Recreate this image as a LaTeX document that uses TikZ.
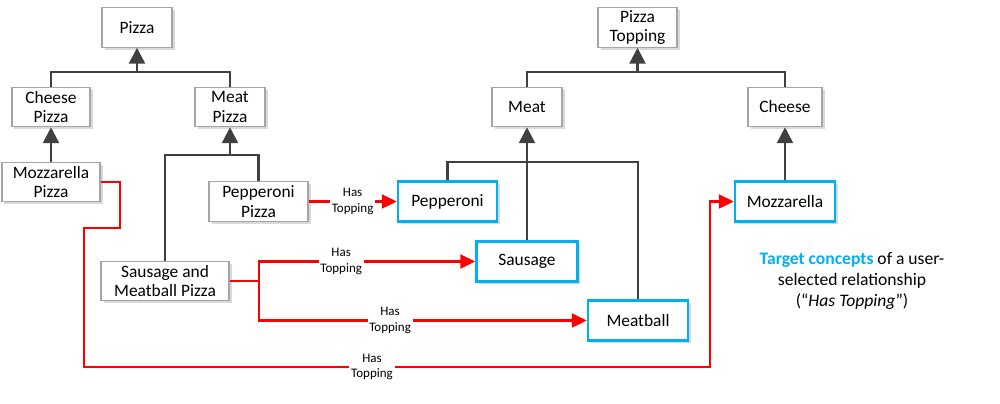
\documentclass[tikz,border=0pt]{standalone}
\usepackage{fontspec}
\setmainfont{Carlito}
\usetikzlibrary{arrows.meta,shadows}
\definecolor{tblue}{RGB}{0,176,240}
\definecolor{isagray}{RGB}{64,64,64}
\definecolor{boxgray}{RGB}{165,165,165}

\begin{document}
\begin{tikzpicture}[x=0.02cm,y=-0.02cm,
    concept/.style={draw=boxgray, line width=0.6pt, fill=white, align=center,
        minimum height=0.79cm, inner sep=1pt, font=\fontsize{9.9}{11.3}\selectfont,
        drop shadow={shadow xshift=0.05cm, shadow yshift=-0.05cm, fill=black, opacity=0.15}},
    target/.style={concept, draw=tblue, line width=1.5pt},
    isa/.style={draw=isagray, line width=1.5pt},
    isarrow/.style={isa, -{Triangle[length=9pt,width=9pt]}},
    has/.style={draw=red, line width=1.3pt},
    hasarrow/.style={has, -{Triangle[length=8.5pt,width=8pt]}},
    lbl/.style={fill=white, align=center, inner sep=1pt, font=\fontsize{7.4}{9}\selectfont}]

    \useasboundingbox (0,0) rectangle (1000,403);

    % Draw the pizza concepts
    \foreach \nm/\x/\y/\w/\txt in {pizza/137/27.5/70/Pizza,
        cheesepizza/51/107/78/{Cheese\\Pizza},
        meatpizza/230/107/70/{Meat\\Pizza},
        mozzpizza/51/182/98/{Mozzarella\\Pizza},
        pepppizza/258.5/201.5/99/{Pepperoni\\Pizza},
        sausmeatpizza/165/281/128/{Sausage and\\Meatball Pizza},
        topping/637.5/27.5/79/{Pizza\\Topping},
        meat/527/107/70/Meat,
        cheese/785/107/74/Cheese} {
        \node[concept, minimum width=\w*0.02cm] (\nm) at (\x,\y) {\txt};
    }
    % Draw the target concepts in blue
    \foreach \nm/\x/\y/\w/\txt in {pepperoni/447.5/201.5/99/Pepperoni,
        sausage/527/261.5/101/Sausage,
        meatball/638/320.5/100/Meatball,
        mozzarella/785/201.5/100/Mozzarella} {
        \node[target, minimum width=\w*0.02cm] (\nm) at (\x,\y) {\txt};
    }

    % Draw the is-a edges
    \coordinate (pizzabus) at (137,72);
    \draw[isa] (cheesepizza.north) |- (pizzabus) -| (meatpizza.north);
    \draw[isarrow] (pizzabus) -- (pizza.south);
    \draw[isarrow] (mozzpizza) -- (cheesepizza);
    \coordinate (meatpizzabus) at (230,155);
    \draw[isa] (sausmeatpizza.north) |- (meatpizzabus) -| (pepppizza.north);
    \draw[isarrow] (meatpizzabus) -- (meatpizza.south);

    \coordinate (toppingbus) at (637.5,72);
    \draw[isa] (meat.north) |- (toppingbus) -| (cheese.north);
    \draw[isarrow] (toppingbus) -- (topping.south);
    \coordinate (meatbus) at (527,162);
    \draw[isa] (pepperoni.north) |- (meatbus) -| (meatball.north);
    \draw[isarrow] (sausage.north) -- (meat.south);
    \draw[isarrow] (mozzarella) -- (cheese);

    % Draw the Has Topping edges
    \draw[hasarrow] (pepppizza.east) -- node[lbl] {Has\\Topping} (pepperoni.west);
    \coordinate (fork) at (259,281);
    \draw[has] (sausmeatpizza.east) -- (fork);
    \draw[hasarrow] (fork) |- node[lbl, pos=0.69] {Has\\Topping} (sausage.west);
    \draw[hasarrow] (fork) |- node[lbl, pos=0.7] {Has\\Topping} (meatball.west);
    \coordinate (mzbend) at (120,228);
    \coordinate (mzleft) at (84,367);
    \coordinate (mzright) at (710,367);
    \draw[hasarrow] (mozzpizza.east) -| (mzbend) -| (mzleft)
        -- node[lbl, pos=0.46] {Has\\Topping} (mzright) |- (mozzarella.west);

    \node[align=center, font=\fontsize{10}{11.9}\selectfont] (legend) at (852,281)
        {\textcolor{tblue}{\textbf{Target concepts}} of a user-\\selected relationship\\(“\textit{Has Topping}”)};

\end{tikzpicture}
\end{document}
